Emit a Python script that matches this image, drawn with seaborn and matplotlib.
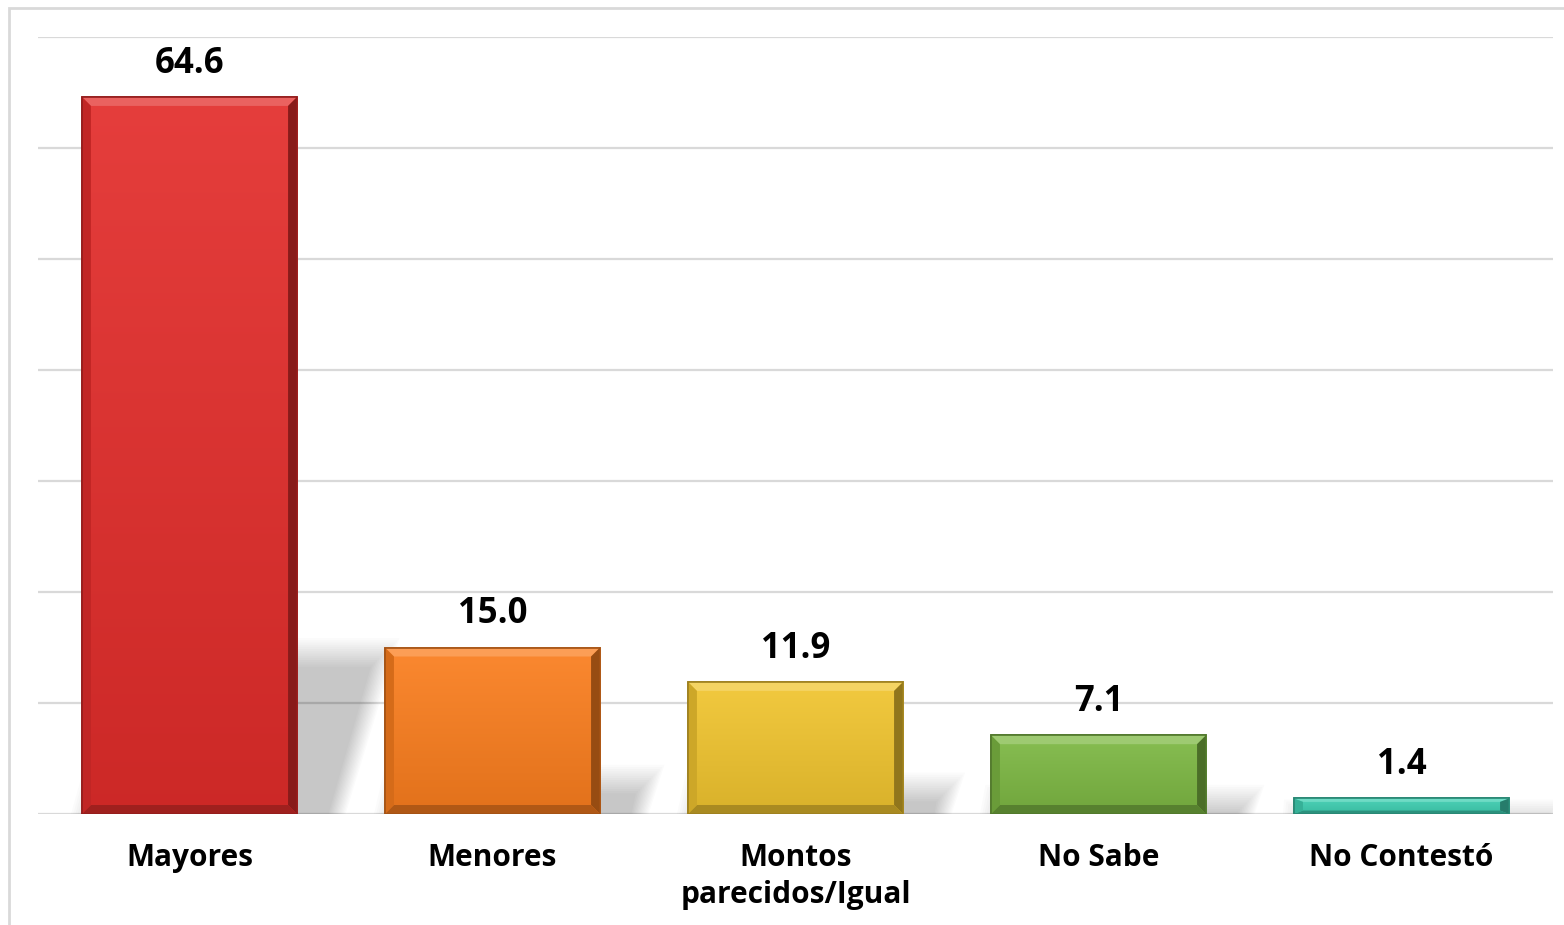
import numpy as np
import pandas as pd
import matplotlib
matplotlib.use("Agg")
import matplotlib.pyplot as plt
import seaborn as sns
from matplotlib.patches import Rectangle, Polygon
from matplotlib.colors import to_rgb

# datos
categorias = ["Mayores", "Menores", "Montos\nparecidos/Igual", "No Sabe", "No Contestó"]
valores = [64.6, 15.0, 11.9, 7.1, 1.4]
colores = ["#E32D2B", "#FB7E1E", "#F1C52F", "#7DB843", "#3FCFB2"]

df = pd.DataFrame({"categoria": categorias, "valor": valores})

sns.set_theme(style="white")
plt.rcParams["font.family"] = ["Open Sans", "DejaVu Sans"]

fig = plt.figure(figsize=(15.64, 9.25), dpi=100)
ax = fig.add_axes([38 / 1564, 1 - 814 / 925, (1553 - 38) / 1564, (814 - 37) / 925])

# marco exterior gris
fig.patches.append(Rectangle((9 / 1564, -0.05), 1.2, 1 - 8 / 925 + 0.05,
                             transform=fig.transFigure, fill=False,
                             edgecolor="#D9D9D9", linewidth=2, zorder=0))

sns.barplot(data=df, x="categoria", y="valor", hue="categoria", palette=colores,
            width=0.71, legend=False, ax=ax, saturation=1, zorder=3)

ax.set_ylim(0, 70)
ax.set_xlim(-0.5, 4.5)
ax.set_yticks(np.arange(0, 71, 10))
ax.yaxis.grid(True, color="#D9D9D9", linewidth=1.6, zorder=0)
ax.set_axisbelow(True)
ax.set_yticklabels([])
ax.tick_params(axis="y", length=0)
ax.tick_params(axis="x", length=0, pad=21)
for s in ax.spines.values():
    s.set_visible(False)
ax.set_xlabel("")
ax.set_ylabel("")
for lbl in ax.get_xticklabels():
    lbl.set_fontsize(21.5)
    lbl.set_fontweight("bold")
    lbl.set_color("black")
    lbl.set_linespacing(1.3)

# unidades: pixeles a datos
px_x = 5 / 1515
px_y = 70 / 777

def mezcla(c, f):
    r = np.array(to_rgb(c))
    if f > 0:
        return tuple(r + (1 - r) * f)
    return tuple(r * (1 + f))

for patch, v, c in zip(ax.patches, valores, colores):
    x0 = patch.get_x()
    w = patch.get_width()
    h = patch.get_height()
    x1 = x0 + w
    patch.set_edgecolor(mezcla(c, -0.35))
    patch.set_linewidth(1.2)

    # sombra difusa
    hs = h * 0.23
    s = 0.3 * (hs / px_y) * px_x
    a = 42 * px_x
    for i in range(14):
        e = (i - 5) * 2.2
        top = max(hs - e * px_y, 0)
        sombra = Polygon([(x0 + e * px_x, 0),
                          (x1 + a - e * px_x * 0.6, 0),
                          (x1 + a + s - e * px_x, top),
                          (x0 + s + e * px_x, top)],
                         closed=True, facecolor="#000000", edgecolor="none",
                         alpha=0.016, zorder=2)
        ax.add_patch(sombra)

    # degradado vertical
    grad = np.linspace(0, 1, 100).reshape(-1, 1)
    c_top = np.array(mezcla(c, 0.08))
    c_bot = np.array(mezcla(c, -0.1))
    img = c_bot + (c_top - c_bot) * grad[..., None]
    im = ax.imshow(img, extent=(x0, x1, 0, h), origin="lower", aspect="auto",
                   zorder=3.5, interpolation="bilinear")
    im.set_clip_path(patch)

    # bisel
    ix = 9 * px_x
    iy = min(9 * px_y, h * 0.22)
    ax.add_patch(Polygon([(x0, h), (x1, h), (x1 - ix, h - iy), (x0 + ix, h - iy)],
                         facecolor=mezcla(c, 0.25), edgecolor="none", zorder=4))
    ax.add_patch(Polygon([(x1, h), (x1, 0), (x1 - ix, iy), (x1 - ix, h - iy)],
                         facecolor=mezcla(c, -0.4), edgecolor="none", zorder=4))
    ax.add_patch(Polygon([(x0, 0), (x1, 0), (x1 - ix, iy), (x0 + ix, iy)],
                         facecolor=mezcla(c, -0.3), edgecolor="none", zorder=4))
    ax.add_patch(Polygon([(x0, h), (x0, 0), (x0 + ix, iy), (x0 + ix, h - iy)],
                         facecolor=mezcla(c, -0.15), edgecolor="none", zorder=4))
    ax.add_patch(Rectangle((x0, 0), w, h, fill=False, edgecolor=mezcla(c, -0.35),
                           linewidth=1.2, zorder=4.5))

    ax.annotate(f"{v:.1f}", (x0 + w / 2, h), xytext=(0, 11), textcoords="offset points",
                ha="center", va="bottom", fontsize=25, fontweight="bold", color="black")

fig.savefig("out.png", dpi=100, facecolor="white")
